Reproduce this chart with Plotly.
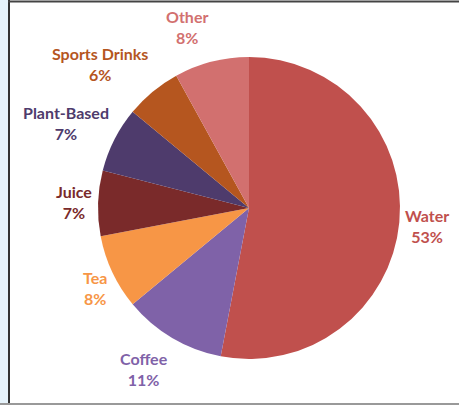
import math
import plotly.graph_objects as go

labels = ["Water", "Coffee", "Tea", "Juice", "Plant-Based", "Sports Drinks", "Other"]
values = [53, 11, 8, 7, 7, 6, 8]
colors = ["#C0504D", "#7F62A8", "#F79646", "#7A2A2A", "#4E3B6C", "#B5561F", "#D2706F"]

W, H = 459, 405
cx, cy, r = 249, 208, 151
lab_a, lab_b = 155, 187

fig = go.Figure(go.Pie(
    labels=labels,
    values=values,
    sort=False,
    direction="clockwise",
    rotation=0,
    marker=dict(colors=colors, line=dict(width=0)),
    textinfo="none",
    showlegend=False,
    hoverinfo="label+percent",
    automargin=False,
    domain=dict(x=[(cx - r) / W, (cx + r) / W], y=[(H - cy - r) / H, (H - cy + r) / H]),
))

# labels placed outside, at each slice's mid angle (derived from the data)
total = sum(values)
annotations = []
cum = 0
for lab, val, col in zip(labels, values, colors):
    mid = (cum + val / 2) / total * 2 * math.pi
    cum += val
    s, c = math.sin(mid), math.cos(mid)
    px = cx + lab_a * s
    py = cy - lab_b * c
    xanchor = "left" if s > 0 else "right"
    annotations.append(dict(
        x=px / W, y=1 - py / H, xref="paper", yref="paper",
        text=f"<b>{lab}</b><br><b>{val}%</b>", showarrow=False,
        xanchor=xanchor, yanchor="middle", align="center",
        font=dict(family="Lato", size=16, color=col),
    ))

fig.update_layout(
    width=W, height=H,
    margin=dict(l=0, r=0, t=0, b=0),
    paper_bgcolor="white",
    plot_bgcolor="white",
    annotations=annotations,
    shapes=[
        dict(type="rect", xref="paper", yref="paper", x0=0, x1=8 / W, y0=0, y1=1,
             fillcolor="#E6F3FB", line=dict(width=0), layer="below"),
        dict(type="line", xref="paper", yref="paper", x0=9 / W, x1=9 / W, y0=0, y1=1,
             line=dict(color="#333333", width=2)),
        dict(type="line", xref="paper", yref="paper", x0=8 / W, x1=1, y0=1 - 1.5 / H, y1=1 - 1.5 / H,
             line=dict(color="#444444", width=2)),
        dict(type="line", xref="paper", yref="paper", x0=0, x1=1, y0=1 / H, y1=1 / H,
             line=dict(color="#999999", width=2)),
    ],
)

fig.write_html("out.html", config={"displayModeBar": False},
               post_script="document.body.style.margin='0';document.body.style.overflow='hidden';")
